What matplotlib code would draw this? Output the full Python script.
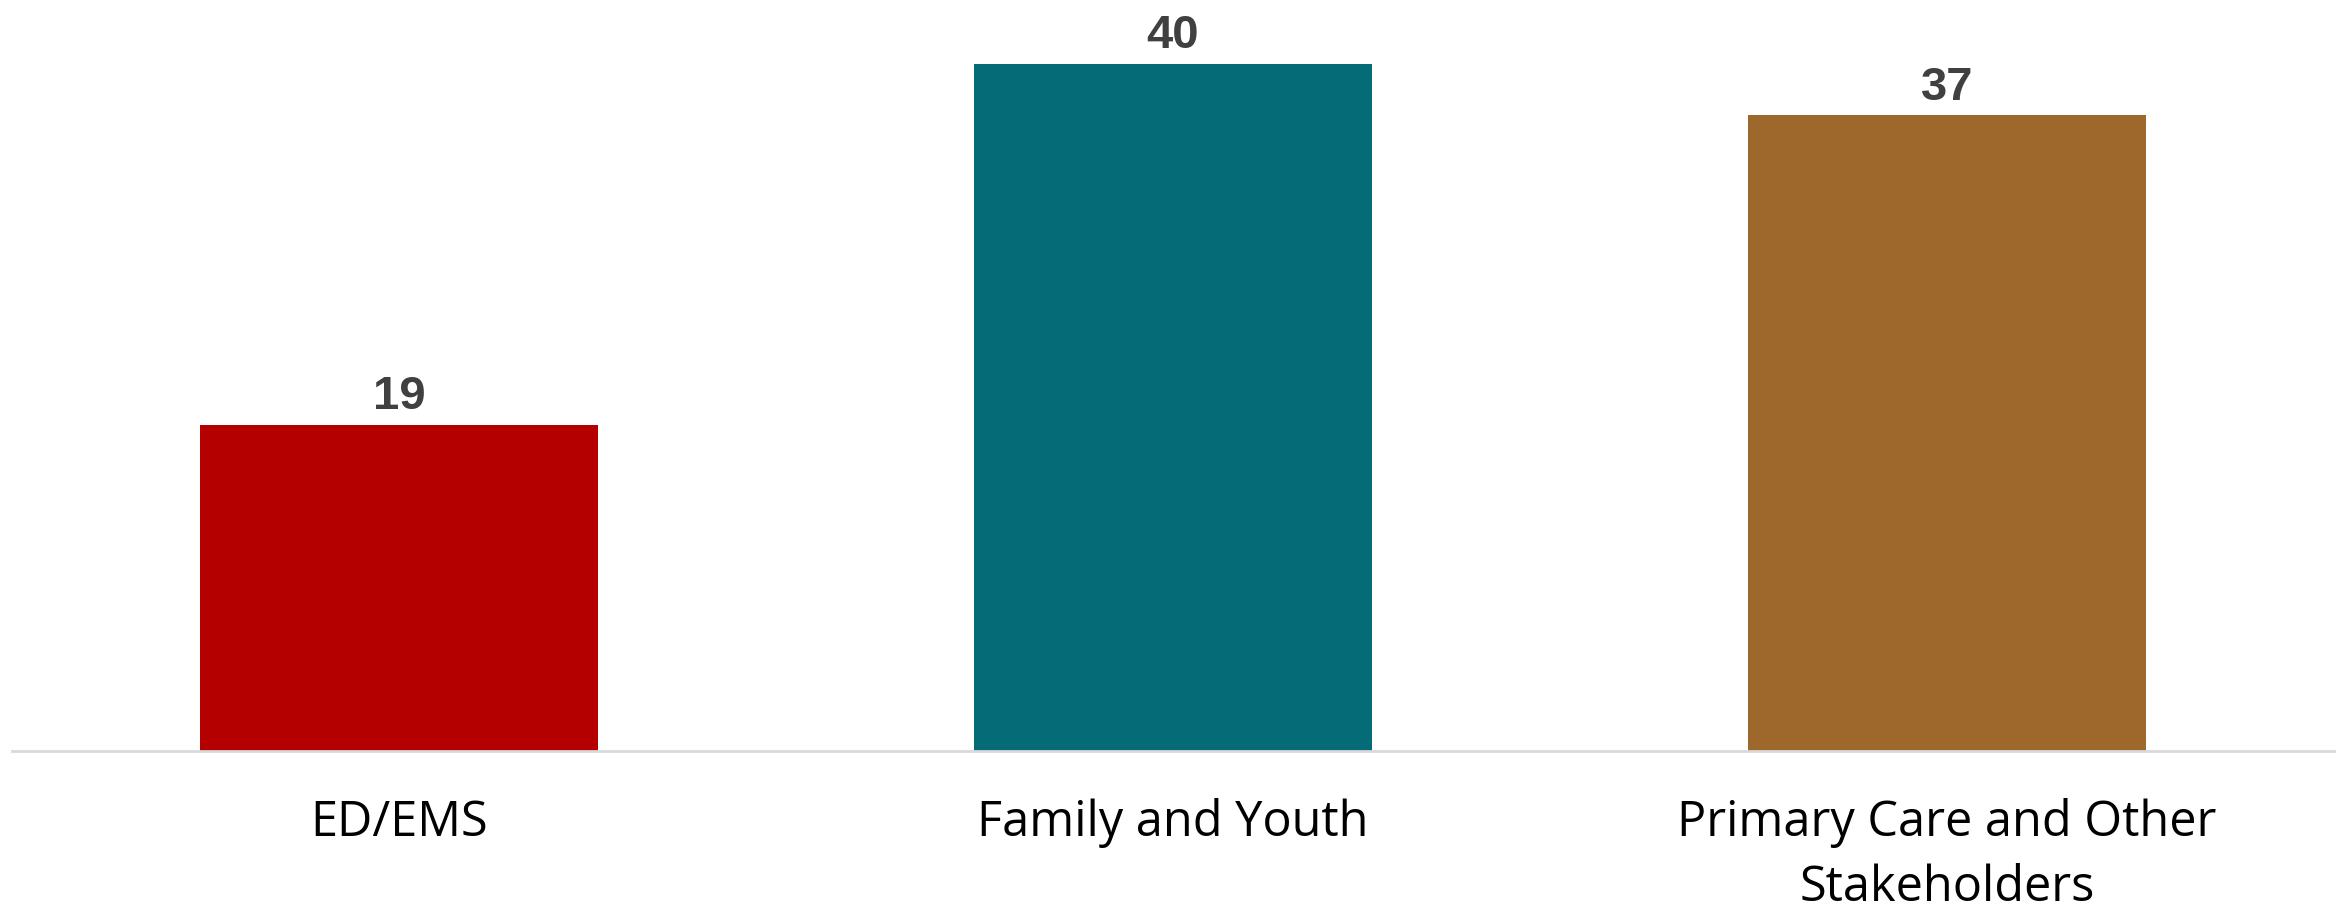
import matplotlib.pyplot as plt

# Data
categories = ['ED/EMS', 'Family and Youth', 'Primary Care and Other\nStakeholders']
values = [19, 40, 37]
colors = ['#b50000', '#056b77', '#9e672b']

fig = plt.figure(figsize=(23.46, 9.10), dpi=100)
ax = fig.add_axes([0.0051, 0.1747, 0.9898, 0.8253])

x = range(len(categories))
bars = ax.bar(x, values, width=0.513, color=colors)

ax.set_xlim(-0.5, 2.5)
ax.set_ylim(0, 43.72)

# value labels on top of bars
for b, v in zip(bars, values):
    ax.annotate(str(v), (b.get_x() + b.get_width() / 2, v),
                xytext=(0, 4), textcoords='offset points',
                ha='center', va='bottom', fontsize=34, fontweight='bold',
                color='#404040', family='Liberation Sans')

ax.set_xticks(list(x))
ax.set_xticklabels(categories, fontsize=35, family='Open Sans', color='black',
                   linespacing=1.4)
ax.tick_params(axis='x', length=0, pad=34)
ax.set_yticks([])

for s in ['top', 'left', 'right']:
    ax.spines[s].set_visible(False)
ax.spines['bottom'].set_color('#d9d9d9')
ax.spines['bottom'].set_linewidth(2)

fig.savefig('out.png', dpi=100)
